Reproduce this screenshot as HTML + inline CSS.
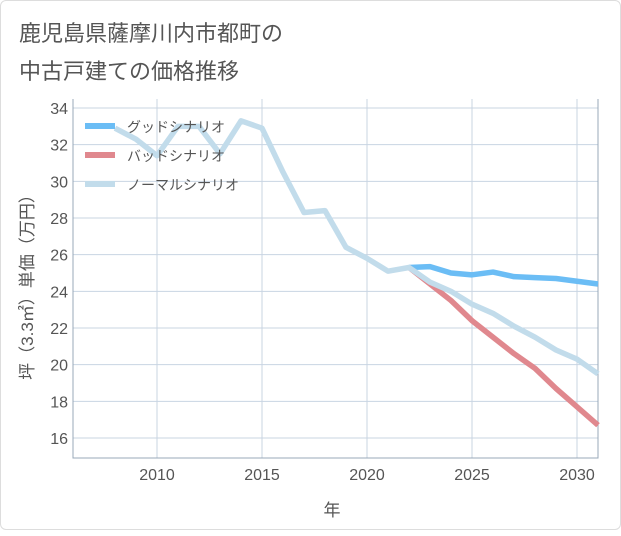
<!DOCTYPE html>
<html><head><meta charset="utf-8"><style>
body{margin:0;background:#fff;}
#c{position:absolute;left:0;top:0;width:621px;height:530px;border:1px solid #ddd;box-sizing:border-box;border-radius:6px;}
text{font-family:"Liberation Sans","Noto Sans CJK JP",sans-serif;}
</style></head><body>
<div id="c">
<svg id="s" width="621" height="530">
<text x="18" y="40" font-size="22" fill="#555">鹿児島県薩摩川内市都町の</text>
<text x="18" y="78" font-size="22" fill="#555">中古戸建ての価格推移</text>
<g id="grid"></g><g id="lines"></g>
<text x="331" y="515" font-size="17" fill="#555" text-anchor="middle">年</text>
<text transform="translate(32,282) rotate(-90)" font-size="17" fill="#555" text-anchor="middle">坪（3.3㎡）単価（万円）</text>
<g>
<rect x="84" y="122" width="30" height="6" fill="#6bbdf5"/>
<text x="126" y="131" font-size="14" fill="#555">グッドシナリオ</text>
<rect x="84" y="151" width="30" height="6" fill="#e0888e"/>
<text x="126" y="160" font-size="14" fill="#555">バッドシナリオ</text>
<rect x="84" y="180" width="30" height="6" fill="#c2dceb"/>
<text x="126" y="189" font-size="14" fill="#555">ノーマルシナリオ</text>
</g>
</svg></div>
<script>
const normalYears=[2008,2009,2010,2011,2012,2013,2014,2015,2016,2017,2018,2019,2020,2021,2022,2023,2024,2025,2026,2027,2028,2029,2030,2031];
const normalVals=[32.9,32.3,31.4,33.0,33.0,31.5,33.3,32.9,30.5,28.3,28.4,26.4,25.8,25.1,25.3,24.5,24.0,23.3,22.8,22.1,21.5,20.8,20.3,19.5];
const scenYears=[2022,2023,2024,2025,2026,2027,2028,2029,2030,2031];
const goodVals=[25.3,25.35,25.0,24.9,25.05,24.8,24.75,24.7,24.55,24.4];
const badVals=[25.3,24.4,23.5,22.4,21.5,20.6,19.8,18.7,17.7,16.7];
const xTicks=[2010,2015,2020,2025,2030];
const yTicks=[16,18,20,22,24,26,28,30,32,34];
const L=72,R=597,T=98,B=457;
const X=y=>156+(y-2010)*21;
const Y=v=>437-(v-16)*(330/18);
const NS='http://www.w3.org/2000/svg';
const g=document.getElementById('grid'),lg=document.getElementById('lines');
function mk(tag,at,p){const e=document.createElementNS(NS,tag);for(const k in at)e.setAttribute(k,at[k]);p.appendChild(e);return e;}
xTicks.forEach(t=>{
 const l=mk('line',{x1:X(t),x2:X(t),y1:T,y2:B,stroke:'#c8d4e2'},g);
 
 
 const tx=mk('text',{x:X(t),y:479,'font-size':16,fill:'#555','text-anchor':'middle'},g);tx.textContent=t;
 
 
});
yTicks.forEach(t=>{
 const l=mk('line',{x1:L,x2:R,y1:Y(t),y2:Y(t),stroke:'#c8d4e2'},g);
 
 
 const tx=mk('text',{x:67,y:Y(t)+6,'font-size':16,fill:'#555','text-anchor':'end'},g);tx.textContent=t;
 
 
});
const ax=mk('path',{d:`M${L},${T}V${B}H${R}V${T}`,fill:'none',stroke:'#98a8b8'},g);


function line(xs,vs,c,n){const p=mk('polyline',{points:xs.map((x,i)=>X(x)+','+Y(vs[i])).join(' '),fill:'none',stroke:c,'stroke-width':5.5,'stroke-linejoin':'round'},lg);
 
 }
line(scenYears,goodVals,'#6bbdf5','good-scenario-line');
line(scenYears,badVals,'#e0888e','bad-scenario-line');
line(normalYears,normalVals,'#c2dceb','normal-scenario-line');
</script>
</body></html>
